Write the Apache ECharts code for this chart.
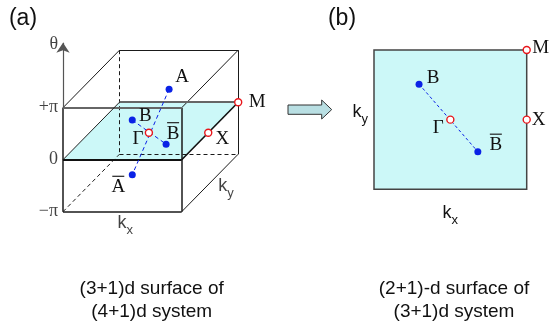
<!DOCTYPE html>
<html><head><meta charset="utf-8">
<script src="https://cdn.jsdelivr.net/npm/echarts@6/dist/echarts.min.js"></script>
<style>html,body{margin:0;padding:0;background:#fff}#c{width:550px;height:327px}</style>
</head><body><div id="c"></div><script>
// ---------------- data (coordinates in units of π) ----------------
const boxRange = [-1, 1];                 // kx, ky, θ each span −π … +π
const thetaTickValues = [1, 0, -1];
const thetaTickLabels = ['+π', '0', '−π'];
const thetaAxisEnd = 2.25;                // top of the θ arrow
const surfaceTheta = 0;                   // the highlighted θ = 0 surface
// panel (a): points [kx, ky, θ]
const dotNamesA = ['A', 'Ā', 'B', 'B\u0304'];
const dotsA = [[0.34, -0.06, 0.835], [-0.28, -0.06, -0.81], [-0.49, 0.38, 0], [0.48, -0.46, 0]];
const symNamesA = ['Γ', 'X', 'M'];
const symA = [[0, -0.06, 0], [1, -0.06, 0], [1, 1, 0]];
const pairsA = [['A', 'Ā'], ['B', 'B\u0304']];
// panel (b): points [kx, ky]
const dotNamesB = ['B', 'B\u0304'];
const dotsB = [[-0.41, 0.51], [0.36, -0.46]];
const symNamesB = ['Γ', 'X', 'M'];
const symB = [[0, 0], [1, 0], [1, 1]];
const pairsB = [['B', 'B\u0304']];
const captionA = ['(3+1)d surface of', '(4+1)d system'];
const captionB = ['(2+1)-d surface of', '(3+1)d system'];
const panelTags = ['(a)', '(b)'];

// ---------------- styling / layout ----------------
const SERIF = 'Liberation Serif', SANS = 'Liberation Sans';
const CYAN = '#ccf8f8', BLUE = '#0a22e6', RED = '#e8161b', INK = '#111';
const DEPTH = [0.476, 0.553];              // oblique projection of ky
const proj = p => [p[0] + DEPTH[0] * p[1], p[2] + DEPTH[1] * p[1]];
const [lo, hi] = boxRange;

const labelOffsets = {
  a: { 'A': [13, -12], 'Ā': [-14, 10], 'B': [13, -4], 'B\u0304': [7, -13], 'Γ': [-11, 6], 'X': [14, 6], 'M': [19, 0] },
  b: { 'B': [14, -6], 'B\u0304': [18, -9], 'Γ': [-12, 8], 'X': [12, 0], 'M': [14, -2] }
};

function hasBar(n) { const d = n.normalize('NFD'); return d.length > 1 && d[1] === '\u0304'; }
function fmtName(n) {
  return hasBar(n) ? '{bar|\u00a0}\n{t|' + n.normalize('NFD')[0] + '}' : '{t|' + n + '}';
}
const nameRich = {
  t: { fontFamily: SERIF, fontSize: 19, color: INK, lineHeight: 17 },
  bar: { width: 12, height: 1.2, lineHeight: 5, backgroundColor: '#222' }
};
const subRich = {
  k: { fontFamily: SANS, fontSize: 18, color: INK, lineHeight: 20, verticalAlign: 'top' },
  s: { fontFamily: SANS, fontSize: 13, color: INK, lineHeight: 13, padding: [10, 0, 0, 0], verticalAlign: 'top' }
};
const sub = (b, s) => '{k|' + b + '}{s|' + s + '}';

function pointLabel() {
  return {
    show: true, position: 'inside', align: 'center', verticalAlign: 'middle',
    formatter: p => fmtName(p.name), rich: nameRich
  };
}
function withOffsets(panel, names, pts, mapper) {
  return names.map((n, i) => ({
    name: n, value: mapper(pts[i]),
    label: { offset: labelOffsets[panel][n] }
  }));
}

// box edges
const solidEdges = [
  [[lo, hi, hi], [hi, hi, hi]], [[hi, hi, hi], [hi, hi, lo]],
  [[lo, lo, hi], [lo, hi, hi]], [[hi, lo, hi], [hi, hi, hi]],
  [[hi, lo, lo], [hi, hi, lo]]
];
const frontEdges = [
  [[lo, lo, lo], [hi, lo, lo]], [[hi, lo, hi], [hi, lo, lo]], [[lo, lo, lo], [lo, lo, hi]]
];
const dashedEdges = [
  [[lo, hi, hi], [lo, hi, lo]], [[lo, hi, lo], [hi, hi, lo]], [[lo, lo, lo], [lo, hi, lo]]
];
const T = surfaceTheta;
const plane = [[lo, lo, T], [hi, lo, T], [hi, hi, T], [lo, hi, T]];
const toLines = edges => edges.map(e => ({ coords: e.map(proj) }));

const findA = n => dotsA[dotNamesA.indexOf(n)];
const findB = n => dotsB[dotNamesB.indexOf(n)];

const axA = { xAxisIndex: 0, yAxisIndex: 0 };
const axB = { xAxisIndex: 1, yAxisIndex: 1 };

const series = [
  // ---- panel (a) ----
  { type: 'custom', ...axA, z: 1, data: [[0, 0]], silent: true,
    renderItem: (params, api) => ({ type: 'polygon',
      shape: { points: plane.map(c => api.coord(proj(c))) },
      style: { fill: CYAN } }) },
  { type: 'lines', coordinateSystem: 'cartesian2d', ...axA, z: 2, clip: false, silent: true,
    lineStyle: { color: '#1a1a1a', width: 1, opacity: 1 }, data: toLines(solidEdges) },
  { type: 'lines', coordinateSystem: 'cartesian2d', ...axA, z: 2, clip: false, silent: true,
    lineStyle: { color: '#1a1a1a', width: 1, type: [4, 3], opacity: 1 }, data: toLines(dashedEdges) },
  { type: 'lines', coordinateSystem: 'cartesian2d', ...axA, z: 3, clip: false, silent: true,
    lineStyle: { color: '#1a1a1a', width: 1.5, opacity: 1 },
    data: toLines(frontEdges).concat([
      { coords: [[lo, lo, hi], [hi, lo, hi]].map(proj), lineStyle: { color: '#666', width: 2 } },
      { coords: [[lo, lo, T], [hi, lo, T]].map(proj), lineStyle: { color: '#111', width: 2.2 } },
      { coords: [[hi, lo, T], [hi, hi, T]].map(proj), lineStyle: { color: '#111', width: 1.6 } },
      { coords: [[lo, hi, T], [hi, hi, T]].map(proj), lineStyle: { color: '#666', width: 1.8 } },
      { coords: [[lo, lo, T], [lo, hi, T]].map(proj), lineStyle: { color: '#222', width: 1 } }
    ]) },
  { type: 'lines', coordinateSystem: 'cartesian2d', ...axA, z: 3, clip: false, silent: true,
    symbol: ['none', 'arrow'], symbolSize: [7, 10],
    lineStyle: { color: '#555', width: 1.2, opacity: 1 },
    data: [{ coords: [[lo, lo, hi], [lo, lo, thetaAxisEnd]].map(proj) }] },
  { type: 'lines', coordinateSystem: 'cartesian2d', ...axA, z: 4, clip: false, silent: true,
    lineStyle: { color: BLUE, width: 1, type: [4, 3], opacity: 1 },
    data: pairsA.map(pr => ({ coords: pr.map(n => proj(findA(n))) })) },
  { type: 'scatter', ...axA, z: 5, clip: false, silent: true, symbolSize: 7,
    itemStyle: { color: BLUE, opacity: 1 }, label: pointLabel(),
    data: withOffsets('a', dotNamesA, dotsA, proj) },
  { type: 'scatter', ...axA, z: 6, clip: false, silent: true, symbolSize: 7,
    itemStyle: { color: '#fff', borderColor: RED, borderWidth: 1.4, opacity: 1 }, label: pointLabel(),
    data: withOffsets('a', symNamesA, symA, proj) },
  // θ tick labels and θ name
  { type: 'scatter', ...axA, z: 6, clip: false, silent: true, symbolSize: 0,
    label: { show: true, position: 'left', distance: 5, fontFamily: SERIF, fontSize: 18, color: INK,
      formatter: p => p.name },
    data: thetaTickValues.map((v, i) => ({ name: thetaTickLabels[i], value: proj([lo, lo, v]) }))
      .concat([{ name: 'θ', value: proj([lo, lo, thetaAxisEnd]), label: { offset: [0, 2] } }]) },
  // kx, ky names for panel (a)
  { type: 'scatter', ...axA, z: 6, clip: false, silent: true, symbolSize: 0,
    label: { show: true, position: 'inside', formatter: p => p.name, rich: subRich },
    data: [
      { name: sub('k', 'x'), value: proj([0, lo, lo]), label: { offset: [3, 12] } },
      { name: sub('k', 'y'), value: proj([hi, 0, lo]), label: { offset: [16, 4] } }
    ] },
  // ---- panel (b) ----
  { type: 'custom', ...axB, z: 1, data: [[0, 0]], silent: true,
    renderItem: (params, api) => ({ type: 'polygon',
      shape: { points: [[lo, lo], [hi, lo], [hi, hi], [lo, hi]].map(c => api.coord(c)) },
      style: { fill: CYAN, stroke: '#444', lineWidth: 1.5 } }) },
  { type: 'lines', coordinateSystem: 'cartesian2d', ...axB, z: 4, clip: false, silent: true,
    lineStyle: { color: BLUE, width: 1, type: [3, 2.5], opacity: 1 },
    data: pairsB.map(pr => ({ coords: pr.map(findB) })) },
  { type: 'scatter', ...axB, z: 5, clip: false, silent: true, symbolSize: 7,
    itemStyle: { color: BLUE, opacity: 1 }, label: pointLabel(),
    data: withOffsets('b', dotNamesB, dotsB, p => p) },
  { type: 'scatter', ...axB, z: 6, clip: false, silent: true, symbolSize: 7,
    itemStyle: { color: '#fff', borderColor: RED, borderWidth: 1.4, opacity: 1 }, label: pointLabel(),
    data: withOffsets('b', symNamesB, symB, p => p) }
];

const hiddenAxis = (gi, min, max) => ({ gridIndex: gi, type: 'value', min, max, show: false });
const namedAxis = (gi, name, loc) => ({
  gridIndex: gi, type: 'value', min: lo, max: hi,
  axisLine: { show: false }, axisTick: { show: false }, axisLabel: { show: false }, splitLine: { show: false },
  name, nameLocation: 'middle', nameRotate: 0,
  nameGap: loc === 'x' ? 15 : 6,
  nameTextStyle: { rich: subRich, padding: loc === 'x' ? 0 : [0, 0, 14, 0] }
});

const chart = echarts.init(document.getElementById('c'), null, { renderer: 'canvas' });
chart.setOption({
  animation: false,
  backgroundColor: '#fff',
  grid: [
    { left: 31.9, top: 26.95, width: 237.4, height: 208 },
    { left: 374, top: 50, width: 152.7, height: 139.3 }
  ],
  xAxis: [hiddenAxis(0, -2, 2), namedAxis(1, sub('k', 'x'), 'x')],
  yAxis: [hiddenAxis(0, -2, 2), namedAxis(1, sub('k', 'y'), 'y')],
  series,
  graphic: [
    { type: 'text', x: 23, y: 19, style: { text: panelTags[0], font: '23px ' + SANS, fill: INK, align: 'center', verticalAlign: 'middle' } },
    { type: 'text', x: 342, y: 19, style: { text: panelTags[1], font: '23px ' + SANS, fill: INK, align: 'center', verticalAlign: 'middle' } },
    { type: 'polygon', shape: { points: [[288, 105], [321.7, 105], [321.7, 100], [331.7, 109.6], [321.7, 119], [321.7, 114.3], [288, 114.3]] },
      style: { fill: '#b9dfe3', stroke: '#333', lineWidth: 1 } },
    { type: 'text', x: 151.7, y: 300.2, style: { text: captionA.join('\n'), font: '19px ' + SANS, lineHeight: 23, fill: INK, align: 'center', verticalAlign: 'middle' } },
    { type: 'text', x: 454, y: 300.2, style: { text: captionB.join('\n'), font: '19px ' + SANS, lineHeight: 23, fill: INK, align: 'center', verticalAlign: 'middle' } }
  ]
});
</script></body></html>
